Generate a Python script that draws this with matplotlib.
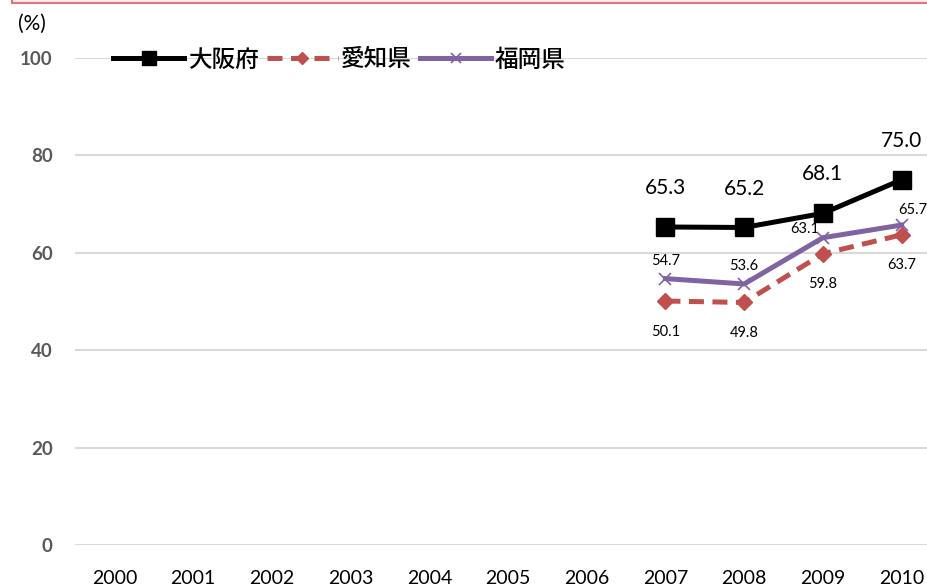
import matplotlib.pyplot as plt
from matplotlib.patches import Rectangle

plt.rcParams['font.family'] = ['Lato', 'Noto Sans CJK JP', 'DejaVu Sans']

years = ['2000', '2001', '2002', '2003', '2004', '2005', '2006', '2007', '2008', '2009', '2010']
data_years = ['2007', '2008', '2009', '2010']
osaka = [65.3, 65.2, 68.1, 75.0]
aichi = [50.1, 49.8, 59.8, 63.7]
fukuoka = [54.7, 53.6, 63.1, 65.7]
names = ['大阪府', '愛知県', '福岡県']

c_osaka = 'black'
c_aichi = '#C0504D'
c_fukuoka = '#8064A2'

fig = plt.figure(figsize=(9.28, 5.86), dpi=100)
# axes extends a little past the right edge, like the cropped original
ax = fig.add_axes([75 / 928, 41 / 586, 866 / 928, 487 / 586])

# pink box at the top (cut off in the original)
fig.patches.append(Rectangle((12 / 928, 583 / 586), 1.0, 0.1, transform=fig.transFigure,
                             facecolor='#FBEAEA', edgecolor='#D9787A', linewidth=1.5, clip_on=False))

xpos = [years.index(y) for y in data_years]

ax.plot(xpos, osaka, color=c_osaka, lw=3.6, marker='s', ms=13, label=names[0], zorder=5)
ax.plot(xpos, aichi, color=c_aichi, lw=3.6, ls=(0, (3.0, 1.7)), marker='D', ms=8.5,
        label=names[1], zorder=3)
ax.plot(xpos, fukuoka, color=c_fukuoka, lw=3.6, marker='x', ms=9, mew=1.2,
        label=names[2], zorder=4)

# data labels
for x, v in zip(xpos, osaka):
    ax.annotate(f'{v:.1f}', (x, v), xytext=(0, 28), textcoords='offset points',
                ha='center', va='center', fontsize=15)
for x, v in zip(xpos, aichi):
    ax.annotate(f'{v:.1f}', (x, v), xytext=(0, -22), textcoords='offset points',
                ha='center', va='center', fontsize=10.5)
fk_off = [(0, 13), (0, 13), (-13, 6), (8, 11)]
for x, v, off in zip(xpos, fukuoka, fk_off):
    ax.annotate(f'{v:.1f}', (x, v), xytext=off, textcoords='offset points',
                ha='center', va='center', fontsize=10.5)

ax.set_xlim(-0.5, len(years) - 0.5)
ax.set_ylim(0, 100)
ax.set_xticks(range(len(years)))
ax.set_xticklabels(years, fontsize=14)
ax.set_yticks([0, 20, 40, 60, 80, 100])
ax.set_yticklabels(['0', '20', '40', '60', '80', '100'], fontsize=13.5,
                   fontweight='bold', color='#595959')
ax.tick_params(length=0)
ax.tick_params(axis='x', pad=18)
ax.tick_params(axis='y', pad=16)
ax.grid(axis='y', color='#D9D9D9', lw=1.5)
ax.set_axisbelow(True)
for s in ax.spines.values():
    s.set_visible(False)

fig.text(18 / 928, 1 - 24 / 586, '(%)', fontsize=15, va='center', ha='left')

leg = ax.legend(loc='center left', bbox_to_anchor=(92 / 928, 1 - 60 / 586),
                bbox_transform=fig.transFigure, ncol=3, frameon=False,
                handlelength=3.0, handletextpad=0.15, columnspacing=0.35,
                markerscale=0.75,
                prop={'family': ['Noto Sans CJK JP'], 'size': 17, 'weight': 'medium'})

fig.savefig('out.png', dpi=100)
